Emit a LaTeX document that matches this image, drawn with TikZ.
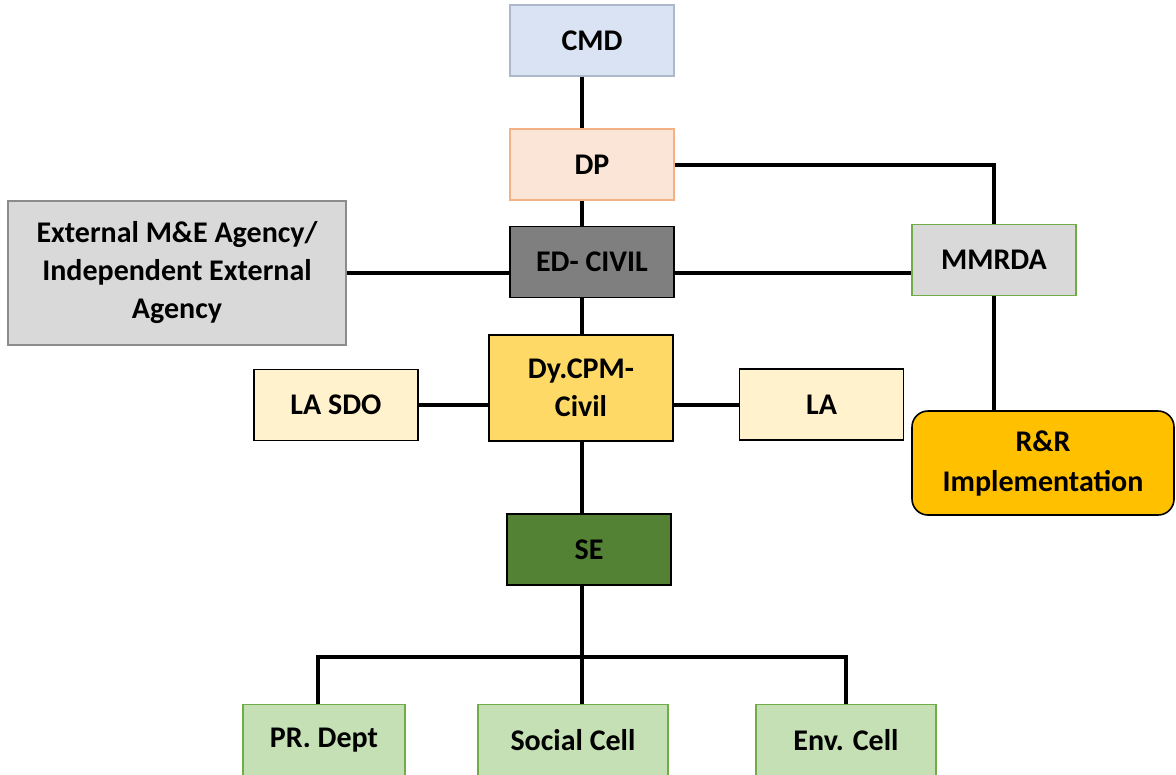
\documentclass[tikz,border=0pt]{standalone}
\usepackage{fontspec}
\setmainfont{Carlito}
\definecolor{cmdfill}{HTML}{DAE3F3}
\definecolor{cmdline}{HTML}{ADB9CA}
\definecolor{dpfill}{HTML}{FBE5D6}
\definecolor{dpline}{HTML}{F4B183}
\definecolor{edfill}{HTML}{7F7F7F}
\definecolor{extfill}{HTML}{D9D9D9}
\definecolor{extline}{HTML}{8C8C8C}
\definecolor{grline}{HTML}{70AD47}
\definecolor{dyfill}{HTML}{FFD966}
\definecolor{lafill}{HTML}{FFF2CC}
\definecolor{rrfill}{HTML}{FFC000}
\definecolor{sefill}{HTML}{548235}
\definecolor{botfill}{HTML}{C5E0B4}
\begin{document}
\begin{tikzpicture}[x=0.75pt,y=-0.75pt,
    box/.style={draw=black, line width=1.2pt, inner sep=0pt, align=center,
      font=\fontsize{22.5}{28.5}\selectfont\bfseries,
      minimum width=123pt, minimum height=53pt},
    link/.style={line width=3pt}]
  \clip (0,0) rectangle (1176,774);
  \fill[white] (0,0) rectangle (1176,774);
  \coordinate (spine) at (582,0);

  \node[box, fill=cmdfill, draw=cmdline] (CMD) at (592,40.5) {CMD};
  \node[box, fill=dpfill, draw=dpline] (DP) at (592,164.5) {DP};
  \node[box, fill=edfill] (ED) at (592,262) {ED- CIVIL};
  \node[box, fill=extfill, draw=extline, minimum width=253.5pt, minimum height=108pt] (Ext) at (177,273)
       {External M\&E Agency/\\Independent External\\Agency};
  \node[box, fill=extfill, draw=grline] (MMRDA) at (994,260) {MMRDA};
  \node[box, fill=dyfill, minimum width=138pt, minimum height=79.5pt] (Dy) at (581,388) {Dy.CPM-\\Civil};
  \node[box, fill=lafill] (LASDO) at (336,405) {LA SDO};
  \node[box, fill=lafill] (LA) at (821.5,404.5) {LA};
  \node[box, fill=rrfill, rounded corners=12pt, minimum width=196.5pt, minimum height=78pt,
        font=\fontsize{22.5}{30}\selectfont\bfseries] (RR) at (1043,463)
       {R\&R\\Implementation};
  \node[box, fill=sefill] (SE) at (589,549.5) {SE};
  \node[box, fill=botfill, draw=grline, minimum width=121.5pt] (PR) at (324,740) {PR. Dept};
  \node[box, fill=botfill, draw=grline, minimum width=142.5pt] (Social) at (573,740) {Social Cell};
  \node[box, fill=botfill, draw=grline, minimum width=135pt] (Env) at (846,740) {Env. Cell};

  \draw[link] (CMD.south -| spine) -- (DP.north -| spine);
  \draw[link] (DP.south -| spine) -- (ED.north -| spine);
  \draw[link] (DP.east) -| (MMRDA.north);
  \draw[link] (Ext.east) -- (ED.west |- Ext.east);
  \draw[link] (ED.east |- Ext.east) -- (MMRDA.west |- Ext.east);
  \draw[link] (ED.south -| spine) -- (Dy.north -| spine);
  \draw[link] (LASDO.east) -- (Dy.west |- LASDO.east);
  \draw[link] (Dy.east |- LA.west) -- (LA.west);
  \draw[link] (MMRDA.south) -- (RR.north -| MMRDA.south);
  \draw[link] (Dy.south -| spine) -- (SE.north -| spine);
  % bus to the three cells
  \coordinate (bus) at (582,657);
  \coordinate (prdrop) at (318,0);
  \draw[link] (SE.south -| spine) -- (bus);
  \draw[link] (PR.north -| prdrop) |- (bus) -| (Env.north);
  \draw[link] (bus) -- (Social.north -| spine);
\end{tikzpicture}
\end{document}
